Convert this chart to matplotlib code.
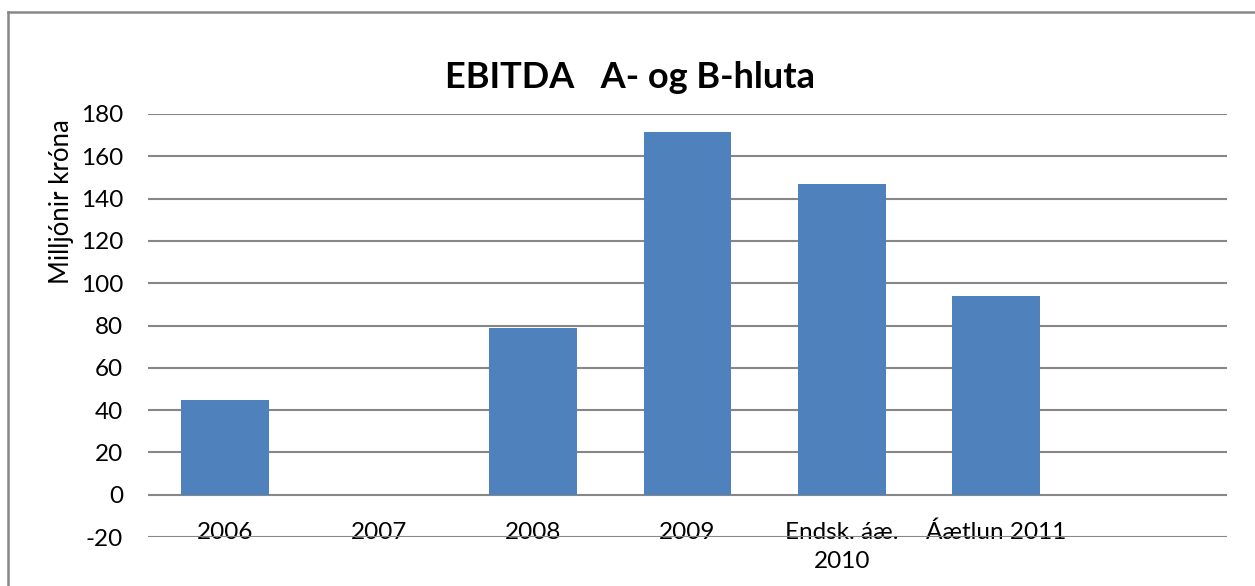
import matplotlib
matplotlib.use("Agg")
import matplotlib.pyplot as plt
from matplotlib.lines import Line2D

categories = ["2006", "2007", "2008", "2009", "Endsk. áæ.\n2010", "Áætlun 2011", ""]
values = [45, 0, 79, 171.5, 147, 94, 0]
yticks = [-20, 0, 20, 40, 60, 80, 100, 120, 140, 160, 180]

plt.rcParams['font.family'] = ['Lato', 'DejaVu Sans']

fig = plt.figure(figsize=(12.55, 5.86), dpi=100)
ax = fig.add_axes([148/1255, 1-537/586, (1227-148)/1255, (537-114)/586])

x = list(range(len(categories)))
ax.bar(x, values, width=0.57, color="#4F81BD", zorder=3)

ax.set_xlim(-0.5, len(categories)-0.5)
ax.set_ylim(-20, 180)
ax.set_yticks(yticks)
ax.set_yticklabels([str(v) for v in yticks], fontsize=17.5)
ax.yaxis.grid(True, color="#878787", linewidth=1.5, zorder=0)
ax.tick_params(axis='y', length=0, pad=18)
ax.set_xticks(x)
ax.set_xticklabels(categories, fontsize=17.5, linespacing=1.5)
ax.tick_params(axis='x', length=0, pad=-11)
for s in ax.spines.values():
    s.set_visible(False)
ax.set_axisbelow(True)

ax.set_ylabel("Milljónir króna", fontsize=18.5)
ax.yaxis.set_label_coords((74-148)/1079, 0.794)

fig.text(630/1255, 1-77/586, "EBITDA   A- og B-hluta", ha='center', va='center',
         fontsize=26, fontweight='bold')

fig.add_artist(Line2D([8/1255, 8/1255], [0, 1-12/586], transform=fig.transFigure,
                      color="#888888", linewidth=1.8))
fig.add_artist(Line2D([8/1255, 1], [1-12/586, 1-12/586], transform=fig.transFigure,
                      color="#888888", linewidth=1.8))

fig.savefig("out.png", dpi=100)
